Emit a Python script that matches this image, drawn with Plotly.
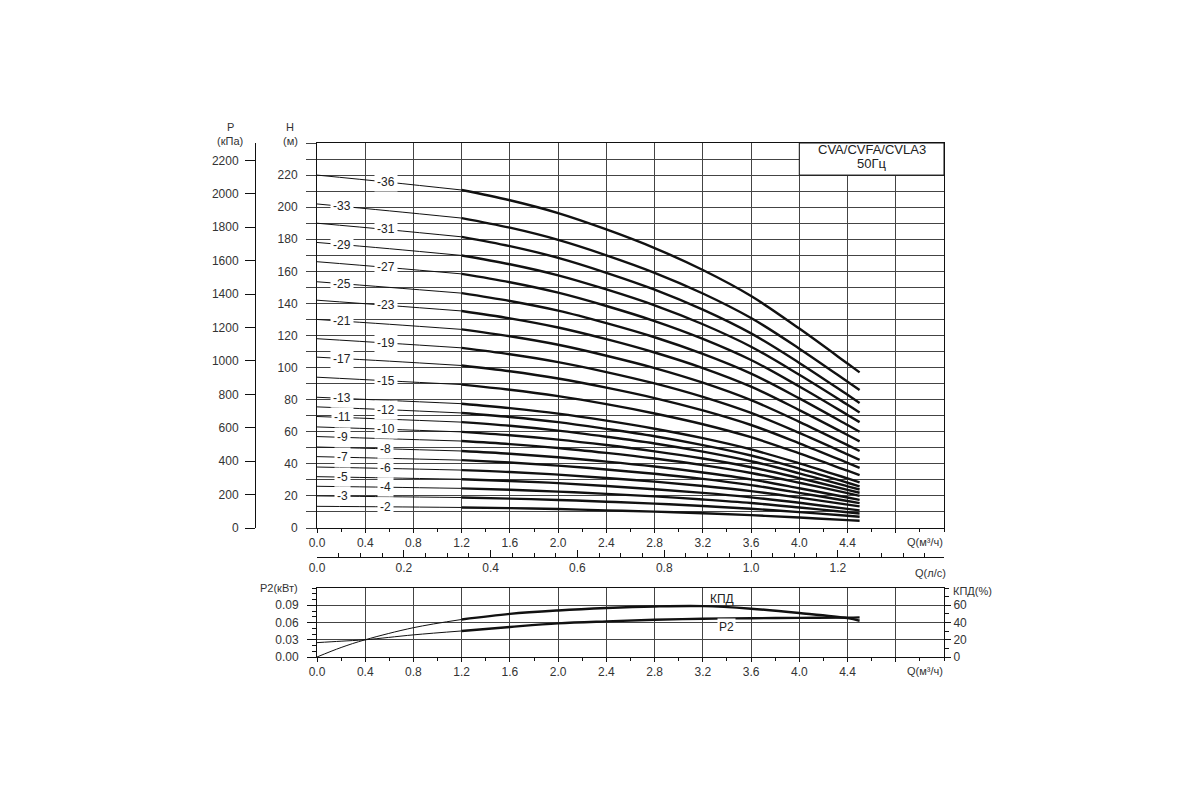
import numpy as np
import plotly.graph_objects as go

# flow points (m3/h) for the head curves
q_head = [0.0, 0.6, 1.2, 1.6, 2.0, 2.4, 2.8, 3.2, 3.6, 4.0, 4.4, 4.5]

# head (m) per stage count
h_36 = [220.0, 215.5, 210.7, 204.3, 196.3, 186.1, 174.5, 160.8, 144.6, 124.3, 102.5, 97.0]
h_33 = [202.0, 197.7, 193.2, 187.2, 179.6, 170.0, 159.1, 146.2, 130.9, 111.8, 91.2, 86.0]
h_31 = [190.0, 185.9, 181.5, 175.7, 168.4, 159.1, 148.6, 136.1, 121.3, 102.9, 83.0, 78.0]
h_29 = [178.0, 174.1, 169.9, 164.4, 157.5, 148.7, 138.8, 127.0, 113.0, 95.5, 76.8, 72.0]
h_27 = [166.0, 162.3, 158.4, 153.2, 146.7, 138.4, 129.0, 117.9, 104.7, 88.2, 70.5, 66.0]
h_25 = [153.5, 150.0, 146.4, 141.5, 135.5, 127.7, 118.9, 108.5, 96.2, 80.8, 64.2, 60.0]
h_23 = [142.0, 138.7, 135.3, 130.7, 125.0, 117.7, 109.4, 99.7, 88.1, 73.5, 58.0, 54.0]
h_21 = [130.0, 127.0, 123.8, 119.5, 114.2, 107.4, 99.7, 90.6, 79.7, 66.2, 51.7, 48.0]
h_19 = [118.0, 115.2, 112.3, 108.3, 103.4, 97.2, 90.1, 81.7, 71.7, 59.3, 45.9, 42.5]
h_17 = [106.5, 104.0, 101.3, 97.7, 93.2, 87.5, 81.0, 73.3, 64.2, 52.8, 40.6, 37.5]
h_15 = [94.0, 91.7, 89.4, 86.2, 82.2, 77.2, 71.4, 64.7, 56.6, 46.5, 35.7, 33.0]
h_13 = [81.5, 79.5, 77.5, 74.7, 71.3, 66.9, 61.9, 56.0, 49.0, 40.3, 30.9, 28.5]
h_12 = [75.5, 73.7, 71.7, 69.2, 66.0, 61.8, 57.2, 51.7, 45.2, 37.0, 28.2, 26.0]
h_11 = [69.5, 67.8, 66.0, 63.7, 60.7, 56.9, 52.7, 47.6, 41.6, 34.1, 26.0, 24.0]
h_10 = [63.0, 61.5, 59.9, 57.8, 55.1, 51.7, 47.8, 43.3, 37.9, 31.1, 23.8, 22.0]
h_9 = [57.0, 55.6, 54.2, 52.3, 49.9, 46.8, 43.3, 39.2, 34.3, 28.2, 21.7, 20.0]
h_8 = [50.5, 49.3, 48.0, 46.3, 44.1, 41.4, 38.3, 34.6, 30.3, 24.8, 19.0, 17.5]
h_7 = [44.5, 43.4, 42.3, 40.8, 38.9, 36.5, 33.8, 30.6, 26.7, 21.9, 16.8, 15.5]
h_6 = [38.0, 37.1, 36.1, 34.9, 33.3, 31.2, 28.9, 26.2, 23.0, 18.9, 14.6, 13.5]
h_5 = [32.0, 31.2, 30.4, 29.3, 28.0, 26.2, 24.2, 21.9, 19.1, 15.7, 11.9, 11.0]
h_4 = [26.0, 25.4, 24.7, 23.8, 22.7, 21.3, 19.7, 17.8, 15.6, 12.8, 9.8, 9.0]
h_3 = [20.0, 19.5, 19.0, 18.3, 17.5, 16.4, 15.2, 13.7, 12.0, 9.9, 7.6, 7.0]
h_2 = [13.5, 13.2, 12.8, 12.4, 11.8, 11.0, 10.2, 9.2, 8.0, 6.5, 4.9, 4.5]

# lower panel: power P2 (kW) and efficiency (%)
q_low = [0.0, 0.2, 0.4, 0.8, 1.2, 1.6, 2.0, 2.4, 2.8, 3.2, 3.6, 4.0, 4.4, 4.5]
p2_kw = [0.025, 0.0275, 0.030, 0.0385, 0.0453, 0.0523, 0.0585, 0.062, 0.0648,
         0.0665, 0.0675, 0.068, 0.0685, 0.069]
eff_pct = [0, 11, 20, 34, 43.5, 50, 54, 56.8, 58.6, 59, 56, 51, 45, 42]

curves = [
    (36, h_36), (33, h_33), (31, h_31), (29, h_29), (27, h_27), (25, h_25),
    (23, h_23), (21, h_21), (19, h_19), (17, h_17), (15, h_15), (13, h_13),
    (12, h_12), (11, h_11), (10, h_10), (9, h_9), (8, h_8), (7, h_7),
    (6, h_6), (5, h_5), (4, h_4), (3, h_3), (2, h_2),
]
left_labels = {33, 29, 25, 21, 17, 13, 11, 9, 7, 5, 3}

FONT = "Liberation Sans, Arial, sans-serif"
INK = "#111111"
GRID = "#444444"
TXT = "#333333"
Q_SPLIT = 1.2  # curves are drawn thin below this flow
PAGE_OFF = 8  # the page body adds an 8px margin


def px(x):
    return (x - PAGE_OFF) / 1200


def py(y):
    return 1 - (y - PAGE_OFF) / 800


def add_split(fig, q, v, xa, ya):
    q = np.asarray(q)
    v = np.asarray(v)
    i = int(np.where(np.isclose(q, Q_SPLIT))[0][0])
    fig.add_trace(go.Scatter(x=q[:i + 1], y=v[:i + 1], mode="lines", xaxis=xa, yaxis=ya,
                             line=dict(color=INK, width=1, shape="spline"),
                             hoverinfo="skip", showlegend=False))
    fig.add_trace(go.Scatter(x=q[i:], y=v[i:], mode="lines", xaxis=xa, yaxis=ya,
                             line=dict(color=INK, width=2.4, shape="spline"),
                             hoverinfo="skip", showlegend=False))


fig = go.Figure()

for n, h in curves:
    add_split(fig, q_head, h, "x", "y")

add_split(fig, q_low, eff_pct, "x3", "y4")
add_split(fig, q_low, p2_kw, "x3", "y3")

# dummy trace so the extra scales get drawn
fig.add_trace(go.Scatter(x=[None], y=[None], xaxis="x2", yaxis="y2", showlegend=False))

annotations = []
for n, h in curves:
    ql = 0.21 if n in left_labels else 0.57
    annotations.append(dict(x=ql, y=float(np.interp(ql, q_head, h)), xref="x", yref="y",
                            text=f"-{n}", showarrow=False, bgcolor="white", borderpad=2,
                            font=dict(size=12, color="#222")))


def txt(x, y, s, size=11, anchor="center"):
    annotations.append(dict(x=px(x), y=py(y), xref="paper", yref="paper", text=s,
                            showarrow=False, xanchor=anchor, yanchor="middle",
                            font=dict(size=size, color=TXT)))


txt(230, 127, "P")
txt(230, 141, "(кПа)")
txt(290, 127, "H")
txt(290, 141, "(м)")
txt(925, 542, "Q(м³/ч)")
txt(930, 573, "Q(л/с)")
txt(300, 588, "P2(кВт)", anchor="right")
txt(951, 591, "КПД(%)", anchor="left")
txt(925, 671, "Q(м³/ч)")

annotations.append(dict(x=4.6, y=236, xref="x", yref="y", text="CVA/CVFA/CVLA3", showarrow=False,
                        font=dict(size=13, color="#222")))
annotations.append(dict(x=4.6, y=227.5, xref="x", yref="y", text="50Гц", showarrow=False,
                        font=dict(size=13, color="#222")))
annotations.append(dict(x=3.36, y=0.101, xref="x3", yref="y3", text="КПД", showarrow=False,
                        font=dict(size=12, color="#222")))
annotations.append(dict(x=3.40, y=0.053, xref="x3", yref="y3", text="P2", showarrow=False,
                        bgcolor="white", font=dict(size=12, color="#222")))

X_DOM = [px(317), px(944)]
q_ticks = [round(0.4 * i, 1) for i in range(13)]
q_text = [f"{v:.1f}" if v < 4.6 else "" for v in q_ticks]
tick_font = dict(size=12, color=TXT, family=FONT)
common = dict(automargin=False, zeroline=False, fixedrange=True, tickfont=tick_font)

fig.update_layout(
    template="none",
    width=1200, height=800,
    margin=dict(l=0, r=0, t=0, b=0, pad=0),
    plot_bgcolor="white", paper_bgcolor="white",
    font=dict(family=FONT, color=TXT),
    showlegend=False,
    annotations=annotations,
    shapes=[dict(type="rect", xref="x", yref="y", x0=4.0, x1=5.2, y0=220, y1=240,
                 fillcolor="white", line=dict(color=INK, width=1), layer="above")],
    xaxis=dict(domain=X_DOM, range=[0, 5.2], anchor="y", tickmode="array", tickvals=q_ticks,
               ticktext=q_text, showgrid=True, gridcolor=GRID, gridwidth=1, showline=True,
               linecolor=INK, mirror=True, ticks="outside", ticklen=4, tickcolor=INK,
               minor=dict(tickmode="linear", tick0=0, dtick=0.2, ticks="outside", ticklen=3,
                          tickcolor=INK, showgrid=False),
               **common),
    yaxis=dict(domain=[py(528), py(143)], range=[0, 240], anchor="x",
               tickmode="array", tickvals=list(range(0, 250, 10)),
               ticktext=[str(v) if v % 20 == 0 and v <= 220 else "" for v in range(0, 250, 10)],
               showgrid=True, gridcolor=GRID, gridwidth=1, showline=True, linecolor=INK,
               mirror=True, ticks="outside", ticklen=10, tickcolor=GRID, ticklabelstandoff=6,
               **common),
    yaxis2=dict(overlaying="y", anchor="free", position=px(255), side="left",
                range=[0, 2304], tickmode="array", tickvals=list(range(0, 2201, 200)),
                showgrid=False, showline=True, linecolor=INK, ticks="outside", ticklen=10,
                tickcolor=INK, ticklabelstandoff=4, **common),
    xaxis2=dict(overlaying="x", anchor="free", position=py(557), side="bottom",
                range=[0, 5.2 / 3.6], tickmode="array", tickvals=[0.2 * i for i in range(7)],
                tickformat=".1f", showgrid=False, showline=True, linecolor=INK,
                ticks="inside", ticklen=7, tickcolor=INK,
                minor=dict(tickmode="linear", tick0=0, dtick=0.05, ticks="inside", ticklen=4,
                           tickcolor=INK, showgrid=False),
                **common),
    xaxis3=dict(domain=X_DOM, range=[0, 5.2], anchor="y3", tickmode="array", tickvals=q_ticks,
                ticktext=q_text, showgrid=True, gridcolor=GRID, gridwidth=1, showline=True,
                linecolor=INK, mirror=True, ticks="outside", ticklen=4, tickcolor=INK,
                minor=dict(tickmode="linear", tick0=0, dtick=0.2, ticks="outside", ticklen=3,
                           tickcolor=INK, showgrid=False),
                **common),
    yaxis3=dict(domain=[py(657), py(588)], range=[0, 0.12], anchor="x3",
                tickmode="array", tickvals=[0, 0.03, 0.06, 0.09], tickformat=".2f",
                showgrid=True, gridcolor=GRID, gridwidth=1, showline=True, linecolor=INK,
                mirror=True, ticks="outside", ticklen=9, tickcolor=INK, ticklabelstandoff=6,
                minor=dict(tickmode="linear", tick0=0, dtick=0.01, ticks="outside", ticklen=4,
                           tickcolor=INK, showgrid=False),
                **common),
    yaxis4=dict(overlaying="y3", anchor="x3", side="right", range=[0, 80],
                tickmode="array", tickvals=[0, 20, 40, 60], showgrid=False, showline=True,
                linecolor=INK, ticks="outside", ticklen=6, tickcolor=INK,
                minor=dict(tickmode="linear", tick0=0, dtick=10, ticks="outside", ticklen=4,
                           tickcolor=INK, showgrid=False),
                **common),
)

fig.write_html("out.html")
